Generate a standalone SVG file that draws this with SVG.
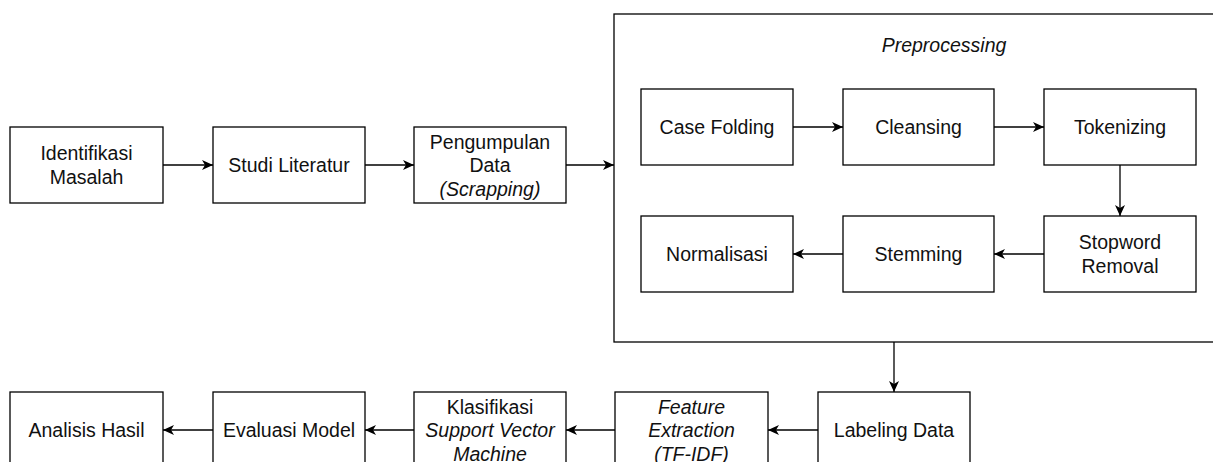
<svg xmlns="http://www.w3.org/2000/svg" width="1213" height="462" viewBox="0 0 1213 462">
<defs>
<style>
.box{fill:#fff;stroke:#000;stroke-width:1.3}
.t{font-family:"Liberation Sans",Arial,sans-serif;font-size:19.5px;fill:#111;text-anchor:middle}
.i{font-style:italic}
.c{fill:none;stroke:#000;stroke-width:1.3}
</style>
<marker id="a" viewBox="0 0 12 10" refX="11" refY="5" markerWidth="12" markerHeight="10" markerUnits="userSpaceOnUse" orient="auto">
<path d="M0,0 L11,5 L0,10 L3,5 Z" fill="#000"/>
</marker>
</defs>
<rect width="1213" height="462" fill="#fff"/>
<g id="preprocessing">
<rect class="box" x="614" y="14" width="640" height="328"/>
<text class="t i" x="944" y="52">Preprocessing</text>
</g>
<g id="identifikasi"><rect class="box" x="10" y="127" width="153" height="76"/><text class="t" x="86.5" y="160">Identifikasi</text><text class="t" x="86.5" y="183.5">Masalah</text></g>
<g id="studi"><rect class="box" x="213" y="127" width="152" height="76"/><text class="t" x="289" y="172">Studi Literatur</text></g>
<g id="pengumpulan"><rect class="box" x="414" y="127" width="152" height="76"/><text class="t" x="490" y="148.5">Pengumpulan</text><text class="t" x="490" y="172">Data</text><text class="t i" x="490" y="195.5">(Scrapping)</text></g>
<g id="casefolding"><rect class="box" x="641" y="89" width="152" height="76"/><text class="t" x="717" y="134">Case Folding</text></g>
<g id="cleansing"><rect class="box" x="843" y="89" width="151" height="76"/><text class="t" x="918.5" y="134">Cleansing</text></g>
<g id="tokenizing"><rect class="box" x="1044" y="89" width="152" height="76"/><text class="t" x="1120" y="134">Tokenizing</text></g>
<g id="normalisasi"><rect class="box" x="641" y="216" width="152" height="76"/><text class="t" x="717" y="261">Normalisasi</text></g>
<g id="stemming"><rect class="box" x="843" y="216" width="151" height="76"/><text class="t" x="918.5" y="261">Stemming</text></g>
<g id="stopword"><rect class="box" x="1044" y="216" width="152" height="76"/><text class="t" x="1120" y="249">Stopword</text><text class="t" x="1120" y="272.5">Removal</text></g>
<g id="analisis"><rect class="box" x="10" y="392" width="153" height="76"/><text class="t" x="86.5" y="437">Analisis Hasil</text></g>
<g id="evaluasi"><rect class="box" x="213" y="392" width="152" height="76"/><text class="t" x="289" y="437">Evaluasi Model</text></g>
<g id="klasifikasi"><rect class="box" x="414" y="392" width="152" height="76"/><text class="t" x="490" y="413.5">Klasifikasi</text><text class="t i" x="490" y="437">Support Vector</text><text class="t i" x="490" y="460.5">Machine</text></g>
<g id="feature"><rect class="box" x="615" y="392" width="153" height="76"/><text class="t i" x="691.5" y="413.5">Feature</text><text class="t i" x="691.5" y="437">Extraction</text><text class="t i" x="691.5" y="460.5">(TF-IDF)</text></g>
<g id="labeling"><rect class="box" x="818" y="392" width="152" height="76"/><text class="t" x="894" y="437">Labeling Data</text></g>
<g id="connectors">
<path class="c" marker-end="url(#a)" d="M163,165 H213"/>
<path class="c" marker-end="url(#a)" d="M365,165 H414"/>
<path class="c" marker-end="url(#a)" d="M566,165 H614"/>
<path class="c" marker-end="url(#a)" d="M793,127 H843"/>
<path class="c" marker-end="url(#a)" d="M994,127 H1044"/>
<path class="c" marker-end="url(#a)" d="M1120,165 V216"/>
<path class="c" marker-end="url(#a)" d="M1044,254 H994"/>
<path class="c" marker-end="url(#a)" d="M843,254 H793"/>
<path class="c" marker-end="url(#a)" d="M894,342 V392"/>
<path class="c" marker-end="url(#a)" d="M818,430 H768"/>
<path class="c" marker-end="url(#a)" d="M615,430 H566"/>
<path class="c" marker-end="url(#a)" d="M414,430 H365"/>
<path class="c" marker-end="url(#a)" d="M213,430 H163"/>
</g>
</svg>
